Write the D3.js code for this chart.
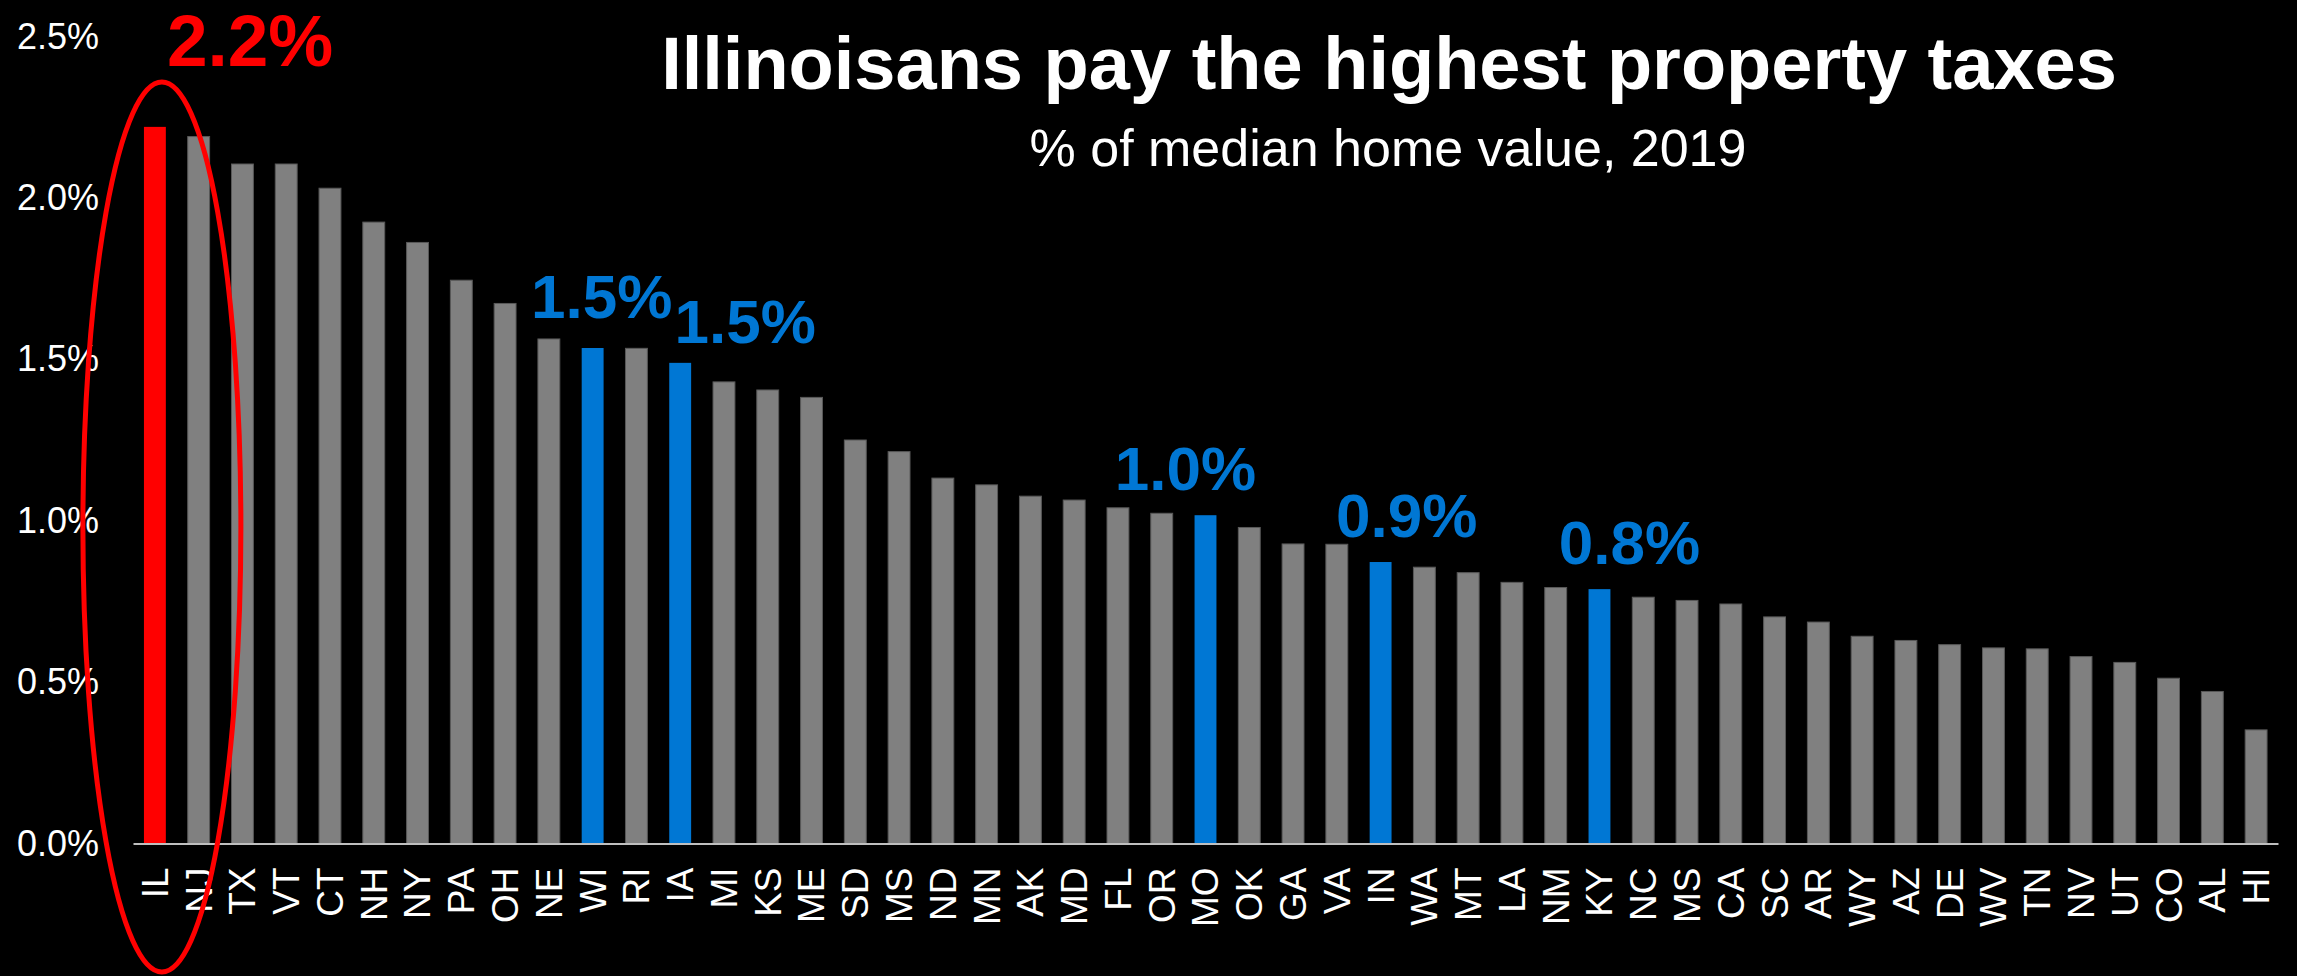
<!DOCTYPE html>
<html>
<head>
<meta charset="utf-8">
<script src="https://cdn.jsdelivr.net/npm/d3@7/dist/d3.min.js"></script>
<style>
  html, body { margin: 0; padding: 0; background: #000; }
  svg { display: block; }
</style>
</head>
<body>
<div id="chart"></div>
<script>
// property tax paid, % of median home value, 2019
const states = [
  "IL", "NJ", "TX", "VT", "CT", "NH", "NY", "PA", "OH", "NE",
  "WI", "RI", "IA", "MI", "KS", "ME", "SD", "MS", "ND", "MN",
  "AK", "MD", "FL", "OR", "MO", "OK", "GA", "VA", "IN", "WA",
  "MT", "LA", "NM", "KY", "NC", "MS", "CA", "SC", "AR", "WY",
  "AZ", "DE", "WV", "TN", "NV", "UT", "CO", "AL", "HI"
];
const rates = [
  2.22, 2.19, 2.105, 2.105, 2.03, 1.925, 1.862, 1.745, 1.673, 1.563,
  1.535, 1.534, 1.489, 1.43, 1.405, 1.382, 1.25, 1.214, 1.132, 1.111,
  1.076, 1.064, 1.04, 1.023, 1.017, 0.979, 0.928, 0.927, 0.872, 0.856,
  0.839, 0.809, 0.793, 0.788, 0.763, 0.753, 0.742, 0.702, 0.686, 0.642,
  0.629, 0.616, 0.606, 0.603, 0.579, 0.561, 0.512, 0.471, 0.352
];
const yTicks = [0, 0.5, 1.0, 1.5, 2.0, 2.5];

// highlighted bars and their callouts
const focusState = "IL";
const neighbours = ["WI", "IA", "MO", "IN", "KY"];
const calloutStates = ["IL", "WI", "IA", "MO", "IN", "KY"];
const calloutLabels = ["2.2%", "1.5%", "1.5%", "1.0%", "0.9%", "0.8%"];

const width = 2297, height = 976;
const svg = d3.select("#chart")
  .append("svg")
  .attr("width", width)
  .attr("height", height)
  .style("font-family", "'Liberation Sans', Arial, sans-serif");

svg.append("rect")
  .attr("width", width)
  .attr("height", height)
  .attr("fill", "#000");

const x = d3.scaleBand()
  .domain(d3.range(states.length))
  .range([133, 2278])
  .paddingInner(0.5)
  .paddingOuter(0.25);

const y = d3.scaleLinear()
  .domain([0, 2.5])
  .range([843.5, 36.5]);

function barColor(i) {
  if (states[i] === focusState) return "#ff0000";
  if (neighbours.includes(states[i])) return "#0077d4";
  return "#808080";
}

// Bars
svg.append("g")
  .selectAll("rect")
  .data(rates)
  .join("rect")
  .attr("x", (d, i) => x(i))
  .attr("y", d => y(d))
  .attr("width", x.bandwidth())
  .attr("height", d => y(0) - y(d))
  .attr("fill", (d, i) => barColor(i))
  .attr("stroke", (d, i) => barColor(i) === "#808080" ? "#595959" : "none")
  .attr("stroke-width", 1);

// Y axis (labels only)
const yAxis = svg.append("g")
  .attr("transform", `translate(${x.range()[0]},0)`)
  .call(d3.axisLeft(y).tickValues(yTicks).tickSize(0).tickPadding(34)
    .tickFormat(d => d.toFixed(1) + "%"));
yAxis.select(".domain").remove();
yAxis.selectAll("text")
  .attr("fill", "#fff")
  .attr("font-size", 36)
  .attr("font-family", "'Liberation Sans', Arial, sans-serif");

// X axis
const xAxis = svg.append("g")
  .attr("transform", `translate(0,${y(0)})`)
  .call(d3.axisBottom(x).tickSize(0).tickSizeOuter(0).tickFormat(i => states[i]));
xAxis.select(".domain")
  .attr("stroke", "#bfbfbf")
  .attr("stroke-width", 2);
xAxis.selectAll("text")
  .attr("fill", "#fff")
  .attr("font-size", 37)
  .attr("font-family", "'Liberation Sans', Arial, sans-serif")
  .attr("transform", "rotate(-90)")
  .attr("text-anchor", "end")
  .attr("x", -24)
  .attr("y", 0)
  .attr("dy", "0.35em");

// Callouts
const calloutStyle = {
  IL: { dx: 12, dy: -61, size: 73, anchor: "start" },
  WI: { dx: 9, dy: -30, size: 62, anchor: "middle" },
  IA: { dx: 65, dy: -20, size: 62, anchor: "middle" },
  MO: { dx: -20, dy: -25, size: 62, anchor: "middle" },
  IN: { dx: 26, dy: -25, size: 62, anchor: "middle" },
  KY: { dx: 30, dy: -25, size: 62, anchor: "middle" }
};
calloutStates.forEach((s, k) => {
  const i = states.indexOf(s);
  const st = calloutStyle[s];
  svg.append("text")
    .attr("x", x(i) + x.bandwidth() / 2 + st.dx)
    .attr("y", y(rates[i]) + st.dy)
    .attr("text-anchor", st.anchor)
    .attr("font-size", st.size)
    .attr("font-weight", "bold")
    .attr("fill", barColor(i))
    .text(calloutLabels[k]);
});

// Ring round Illinois
const il = states.indexOf(focusState);
svg.append("ellipse")
  .attr("cx", x(il) + x.bandwidth() / 2 + 7)
  .attr("cy", 527)
  .attr("rx", 79)
  .attr("ry", 445)
  .attr("fill", "none")
  .attr("stroke", "#ff0000")
  .attr("stroke-width", 5);

// Titles
svg.append("text")
  .attr("x", 1389)
  .attr("y", 89)
  .attr("text-anchor", "middle")
  .attr("font-size", 74)
  .attr("font-weight", "bold")
  .attr("fill", "#fff")
  .text("Illinoisans pay the highest property taxes");

svg.append("text")
  .attr("x", 1388)
  .attr("y", 166)
  .attr("text-anchor", "middle")
  .attr("font-size", 52)
  .attr("fill", "#fff")
  .text("% of median home value, 2019");
</script>
</body>
</html>
